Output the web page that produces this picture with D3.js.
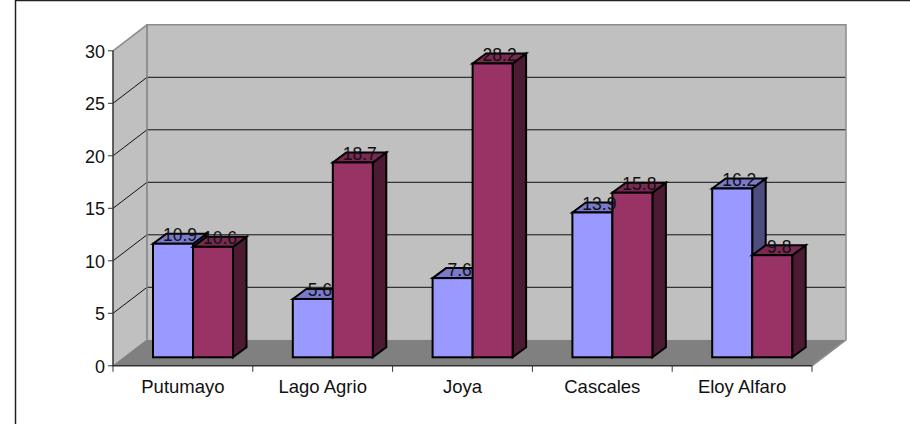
<!DOCTYPE html>
<html><head><meta charset="utf-8">
<script src="https://cdnjs.cloudflare.com/ajax/libs/d3/7.8.5/d3.min.js"></script>
<style>html,body{margin:0;padding:0;background:#fff}svg{display:block}
text{font-family:"Liberation Sans",Arial,sans-serif;fill:#111}</style>
</head><body><svg id="c" width="910" height="424"></svg>
<script>
const categories=["Putumayo","Lago Agrio","Joya","Cascales","Eloy Alfaro"];
const seriesA=[10.9,5.6,7.6,13.9,16.2];
const seriesB=[10.6,18.7,28.2,15.8,9.8];
const yTicks=[0,5,10,15,20,25,30];
const seriesColors=[{face:"#9999FF",top:"#7A7ACC",side:"#4D4D80"},{face:"#993366",top:"#7A2952",side:"#4D1A33"}];

const svg=d3.select("#c");
const L=113,R=812,DX=34,DY=26,barDX=13.5,barDY=10;
const y=d3.scaleLinear().domain([0,30]).range([365.8,50.8]);
const yBar=d3.scaleLinear().domain([0,30]).range([357.3,44.7]);
const x=d3.scaleBand().domain(categories).range([L,R]);
const inner=d3.scaleBand().domain([0,1]).range([40,120]);
const pts=a=>a.map(p=>p.join(",")).join(" ");

// frame
svg.append("path").attr("d","M15.5,424V0.5H910").attr("fill","none").attr("stroke","#222").attr("stroke-width",1.5);

// walls
svg.append("polygon").attr("points",pts([[L+DX,y(30)-DY],[R+DX,y(30)-DY],[R+DX,y(0)-DY],[L+DX,y(0)-DY]])).attr("fill","#C0C0C0");
svg.append("polygon").attr("points",pts([[L,y(30)],[L+DX,y(30)-DY],[L+DX,y(0)-DY],[L,y(0)]])).attr("fill","#C0C0C0");
svg.append("polygon").attr("points",pts([[L,y(0)],[L+DX,y(0)-DY],[R+DX,y(0)-DY],[R,y(0)]])).attr("fill","#808080");
// gridlines
yTicks.filter(t=>t>0&&t<30).forEach(t=>{
  svg.append("path").attr("d",`M${L},${y(t)}L${L+DX},${y(t)-DY}L${R+DX},${y(t)-DY}`).attr("fill","none").attr("stroke","#111").attr("stroke-width",1);
});
// wall outline
svg.append("path").attr("d",`M${L},${y(30)}L${L+DX},${y(30)-DY}H${R+DX}V${y(0)-DY}L${R},${y(0)}`).attr("fill","none").attr("stroke","#8c8c8c").attr("stroke-width",1.5);
svg.append("path").attr("d",`M${L+DX},${y(30)-DY}V${y(0)-DY}`).attr("fill","none").attr("stroke","#808080").attr("stroke-width",1.5);
svg.append("path").attr("d",`M${L},${y(0)}L${L+DX},${y(0)-DY}`).attr("fill","none").attr("stroke","#808080").attr("stroke-width",1);

// bars
const base=yBar(0);
categories.forEach((c,i)=>{
  [seriesA[i],seriesB[i]].forEach((v,s)=>{
    const x0=x(c)+inner(s),w=inner.bandwidth(),t=yBar(v),col=seriesColors[s];
    const g=svg.append("g").attr("stroke","#000").attr("stroke-width",2).attr("stroke-linejoin","miter");
    g.append("polygon").attr("points",pts([[x0+w,base],[x0+w+barDX,base-barDY],[x0+w+barDX,t-barDY],[x0+w,t]])).attr("fill",col.side);
    g.append("polygon").attr("points",pts([[x0,t],[x0+barDX,t-barDY],[x0+w+barDX,t-barDY],[x0+w,t]])).attr("fill",col.top);
    g.append("rect").attr("x",x0).attr("y",t).attr("width",w).attr("height",base-t).attr("fill",col.face);
  });
});
// value labels
categories.forEach((c,i)=>{
  [seriesA[i],seriesB[i]].forEach((v,s)=>{
    const x0=x(c)+inner(s),w=inner.bandwidth(),t=yBar(v);
    svg.append("text").attr("x",x0+w/2+7).attr("y",t-2.5).attr("text-anchor","middle").attr("font-size",17.5).text(v.toFixed(1));
  });
});

// axes
svg.append("path").attr("d",`M${L},${y(30)}V${y(0)}H${R}`).attr("fill","none").attr("stroke","#333").attr("stroke-width",1.5);
yTicks.forEach(t=>{
  svg.append("line").attr("x1",L-5).attr("x2",L).attr("y1",y(t)).attr("y2",y(t)).attr("stroke","#333").attr("stroke-width",1);
  svg.append("text").attr("x",L-8).attr("y",y(t)+7).attr("text-anchor","end").attr("font-size",18).text(t);
});
[...categories.map(c=>x(c)),R].forEach(px=>{
  svg.append("line").attr("x1",px).attr("x2",px).attr("y1",y(0)).attr("y2",y(0)+6).attr("stroke","#333").attr("stroke-width",1);
});
categories.forEach(c=>{
  svg.append("text").attr("x",x(c)+x.bandwidth()/2).attr("y",392.5).attr("text-anchor","middle").attr("font-size",18.5).text(c);
});
</script></body></html>
